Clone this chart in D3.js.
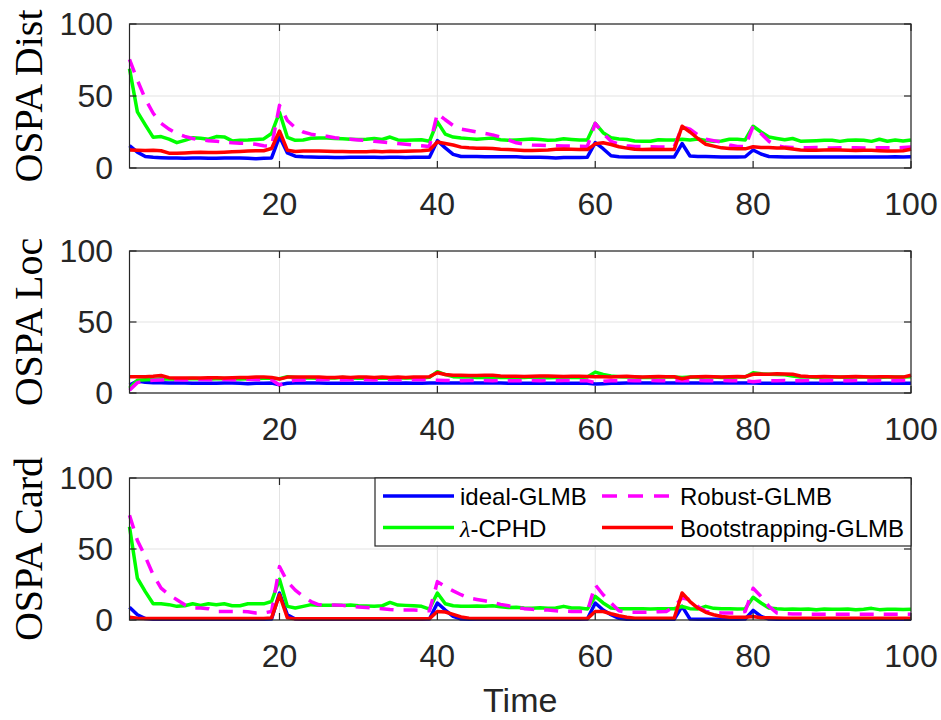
<!DOCTYPE html>
<html>
<head>
<meta charset="utf-8">
<script src="https://cdn.jsdelivr.net/npm/d3@7"></script>
<style>
  body { margin: 0; background: #fff; }
  svg { display: block; }
</style>
</head>
<body>
<div id="chart"></div>
<script>
// time steps 1..100
let timeSteps = d3.range(1, 101);
let xTicks = [20, 40, 60, 80, 100];
let yTicks = [0, 50, 100];
let seriesNames = ["ideal-GLMB", "Robust-GLMB", "λ-CPHD", "Bootstrapping-GLMB"];
let panelLabels = ["OSPA Dist", "OSPA Loc", "OSPA Card"];

// OSPA Dist
let idealDist = [15.5, 11, 8, 7.5, 7.2, 7, 7, 6.8, 7, 7,
    6.8, 6.8, 7, 7, 7, 6.8, 6.5, 6.8, 7, 21.8,
    10.5, 8.2, 7.8, 7.6, 7.5, 7.5, 7.3, 7.3, 7.5, 7.5,
    7.5, 7.5, 7.3, 7.5, 7.5, 7.3, 7.5, 7.5, 7.5, 19,
    14, 9.5, 8, 8, 8, 7.8, 7.8, 7.8, 7.8, 7.8,
    7.5, 7.5, 7.5, 7.3, 7.0, 7.3, 7.3, 7.3, 7.5, 17.6,
    13.4, 8.5, 7.8, 7.6, 7.6, 7.6, 7.6, 7.6, 7.6, 7.6,
    17, 8.3, 8, 8, 7.8, 7.6, 7.6, 7.6, 7.8, 12.5,
    9.7, 8, 7.8, 7.6, 7.6, 7.7, 7.6, 7.6, 7.7, 7.6,
    7.6, 7.7, 7.6, 7.6, 7.7, 7.6, 7.6, 7.8, 7.6, 7.8];
let cphdDist = [69, 39, 30, 21.3, 21.8, 20, 17.6, 19.2, 21, 20.6,
    20, 21.8, 21.6, 18.8, 19.2, 19.4, 19.8, 20.2, 24, 38.7,
    21.3, 19.2, 19.5, 20.6, 20.8, 20.8, 20.5, 20.3, 20, 19.8,
    20, 20.5, 19.8, 21.5, 19.5, 19.3, 19.5, 19.6, 18.6, 32,
    23.5, 21.5, 20.8, 20.4, 20, 20.4, 20.8, 19.6, 19.3, 19.5,
    19.8, 20.2, 19.8, 19.3, 19.5, 20.3, 19.8, 19.4, 19.5, 31,
    24.5, 21, 20.2, 19.8, 18.8, 18.5, 18.6, 19.6, 19.4, 19.5,
    20, 19.5, 20.2, 19.2, 18.5, 18.7, 20, 20, 19.5, 29,
    25, 21.5, 20.5, 19.6, 20.5, 18.6, 18.8, 19, 19.2, 19.3,
    18.5, 19.3, 19.4, 19.3, 18.5, 20, 18.6, 19.5, 18.7, 19.5];
let robustDist = [75.5, 61, 48, 38, 31, 27, 24, 22, 20.5, 19.5,
    19, 18.5, 18, 17.5, 17.2, 17, 16.5, 15.5, 15, 43.5,
    33, 28, 25, 23.5, 22.5, 22, 21, 20.5, 20, 19.5,
    19, 18.5, 18, 17.5, 17, 16.5, 16, 15.5, 15, 38,
    33.5, 29.5, 27, 26, 25, 24, 23, 21.5, 19.5, 17.5,
    16.5, 16, 15.8, 15.6, 15.5, 15.3, 15.2, 15.1, 15, 31,
    24, 18.5, 16.5, 15.5, 15, 14.8, 14.7, 14.6, 14.5, 14.8,
    28.5, 27, 23, 20, 19, 18, 16, 15, 14.8, 29,
    24, 18.5, 15.5, 14.5, 14.2, 14, 14, 14.2, 14, 13.9,
    14, 14.2, 14, 13.9, 14, 14.1, 14, 14, 14.2, 14.5];
let bootDist = [12.5, 12.3, 12.2, 12.3, 12, 10.3, 10.3, 10.5, 10.8, 11,
    10.8, 10.8, 11, 11.2, 11.5, 11.8, 12, 12, 13.5, 25.7,
    12.3, 11.5, 11.8, 11.8, 11.8, 11.6, 11.5, 11.4, 11.3, 11.3,
    11.3, 11.6, 11.3, 11.6, 11.5, 11.6, 11.8, 12, 12.5, 18,
    17, 16, 14.5, 14, 13.8, 13.8, 13.5, 13, 12.8, 12.5,
    12.2, 12.2, 12.3, 12.5, 13, 13.2, 13, 12.8, 12.8, 16.8,
    17.5, 16.3, 14.8, 13.8, 13, 12.8, 13, 12.8, 12.8, 12.8,
    29, 25, 20.5, 16.5, 15.2, 14, 13.5, 13.3, 13.3, 14.8,
    14.3, 14.2, 13.9, 13.9, 13.2, 12.5, 12.3, 12.3, 12.5, 12.7,
    12.5, 12.3, 12.2, 12.3, 12.3, 12, 11.8, 11.8, 12, 13];

// OSPA Loc
let idealLoc = [5.6, 8.5, 7.5, 7.3, 7.2, 7, 7, 7, 6.8, 6.8,
    6.8, 6.8, 7, 7, 6.8, 6.5, 6.8, 6.8, 7, 5.8,
    6.8, 7, 7, 7, 7, 6.8, 6.8, 6.8, 6.8, 7,
    6.8, 6.8, 6.8, 6.8, 6.8, 7, 6.8, 6.8, 7, 7,
    7, 7, 7, 7, 7, 7, 7, 7, 6.8, 6.8,
    6.8, 6.8, 6.8, 6.8, 6.8, 6.8, 6.8, 6.8, 6.8, 6.3,
    6.5, 6.8, 6.8, 7, 7, 7, 7, 7, 7, 7,
    7, 7, 7, 7, 7, 7, 7, 7, 7, 7,
    6.8, 6.8, 6.8, 6.8, 6.8, 6.8, 6.8, 6.8, 6.8, 6.8,
    6.8, 6.8, 6.8, 6.8, 6.8, 6.8, 6.8, 6.8, 6.8, 6.8];
let cphdLoc = [3.3, 9, 9.3, 9.5, 10, 9.8, 9.8, 10, 10.2, 10,
    9.8, 10, 10.2, 10, 9.8, 10, 10.2, 10.3, 10.3, 10,
    11.5, 11, 10.5, 10.5, 10.3, 10.5, 10.5, 11, 10.5, 10.3,
    10.5, 10.3, 10.5, 10.3, 10.5, 10.5, 10.8, 10.5, 11, 15,
    13, 11.5, 11.3, 11.2, 11, 11, 11.2, 11, 11, 11,
    11, 11.2, 11, 10.8, 11, 11.2, 11, 11, 11.2, 14.7,
    13, 12, 11.5, 11.3, 11.2, 11, 11, 11.2, 11.3, 11.2,
    11, 11.2, 11, 11.3, 11.2, 11, 11, 11.2, 11.3, 14.3,
    13.5, 13.2, 13, 12.8, 12, 11.3, 11.2, 11, 11.2, 11.3,
    11.2, 11, 11.2, 11.3, 11.2, 11, 11.2, 11.3, 11.2, 11.5];
let robustLoc = [2, 7.3, 8.5, 9, 9.2, 9.5, 9.3, 9.2, 9.5, 9.5,
    9.3, 9.5, 9.5, 9.3, 9.2, 9.5, 9.5, 9.3, 9.3, 5.6,
    8, 9, 9.2, 9.3, 9.3, 9.5, 9.3, 9.2, 9.3, 9.5,
    9.3, 9.2, 9.3, 9.5, 9.3, 9.2, 9.3, 9.3, 9.2, 9,
    8.8, 8.8, 8.7, 8.8, 8.7, 8.8, 8.7, 8.8, 8.7, 8.7,
    8.7, 8.8, 8.7, 8.8, 8.7, 8.8, 8.7, 8.7, 8.6, 7.3,
    8.3, 8.6, 8.7, 8.8, 8.7, 8.7, 8.8, 8.7, 8.7, 8.8,
    8.7, 8.7, 8.8, 8.7, 8.7, 8.8, 8.7, 8.7, 8.6, 8,
    8.5, 8.7, 8.7, 8.8, 8.7, 8.7, 8.8, 8.7, 8.7, 8.8,
    8.7, 8.7, 8.8, 8.7, 8.7, 8.8, 8.7, 8.7, 8.8, 8.8];
let bootLoc = [11.5, 11.5, 11.5, 11.8, 12.3, 10.8, 10.5, 10.5, 10.5, 10.5,
    10.8, 10.8, 10.5, 10.8, 11, 11, 11.2, 11.2, 11, 9.8,
    11.2, 11.3, 11.3, 11.3, 11.2, 11, 11, 11.2, 11, 11.2,
    11.3, 11, 11.2, 11, 11.2, 11, 11.3, 11.2, 11.5, 14.3,
    13, 12.5, 12.5, 12.3, 12.3, 12.5, 12.5, 12, 11.8, 11.8,
    11.6, 11.8, 12, 12, 11.8, 11.6, 11.8, 11.8, 11.6, 11.5,
    11.5, 11.3, 11.6, 11.8, 11.5, 11.3, 11.5, 11.6, 11.5, 11.4,
    10, 11.2, 11.5, 11.6, 11.5, 11.3, 11.5, 11.6, 11.5, 13.2,
    13.3, 13.2, 13.5, 13.3, 13.2, 12, 11.6, 11.5, 11.6, 11.5,
    11.3, 11.5, 11.6, 11.5, 11.3, 11.4, 11.5, 11.3, 11.2, 12.5];

// OSPA Card
let idealCard = [9, 3.7, 1, 0.5, 0.5, 0.5, 0.5, 0.5, 0.5, 0.5,
    0.5, 0.5, 0.5, 0.5, 0.5, 0.5, 0.5, 0.5, 0.7, 19,
    3.7, 0.7, 0.5, 0.5, 0.5, 0.5, 0.5, 0.5, 0.5, 0.5,
    0.5, 0.5, 0.5, 0.5, 0.5, 0.5, 0.5, 0.5, 0.7, 12,
    7, 2.5, 0.7, 0.5, 0.5, 0.5, 0.5, 0.5, 0.5, 0.5,
    0.5, 0.5, 0.5, 0.5, 0.5, 0.5, 0.5, 0.5, 0.7, 12,
    7, 3.7, 1.2, 0.5, 0.5, 0.5, 0.5, 0.5, 0.5, 0.5,
    9.6, 0.7, 0.5, 0.5, 0.5, 0.5, 0.5, 0.5, 0.7, 6.8,
    2.5, 0.7, 0.5, 0.5, 0.5, 0.5, 0.5, 0.5, 0.5, 0.5,
    0.5, 0.5, 0.5, 0.5, 0.5, 0.5, 0.5, 0.5, 0.5, 0.5];
let cphdCard = [65.7, 29.4, 20, 11.4, 11.4, 10.8, 9.6, 10, 11.4, 10.3,
    11.4, 10.8, 11.4, 10, 10, 11.4, 11.4, 11.4, 13, 28.7,
    9.6, 8.4, 9.6, 10.8, 10.3, 10.3, 10.3, 10.3, 10.5, 10,
    9.8, 9.6, 10, 12.4, 10.5, 10.3, 10, 9.6, 7.7, 19,
    11.4, 10, 9.6, 9.6, 9.8, 9.6, 10, 9.4, 8.8, 9,
    8.4, 8.2, 8.6, 8.2, 8.4, 9.6, 8.4, 8.4, 7.7, 16.6,
    12, 8.4, 7.9, 7.9, 8, 7.9, 7.8, 7.9, 8, 7.9,
    9.5, 8, 7.8, 9.6, 8.2, 7.9, 8, 7.8, 7.9, 16,
    12, 8.4, 7.9, 7.6, 7.8, 7.5, 7.8, 7.3, 7.7, 7.6,
    7.5, 7.8, 7.2, 7.6, 8.2, 7.3, 7.5, 7.6, 7.4, 7.6];
let robustCard = [73.8, 56, 44.6, 31.8, 22.4, 17.8, 14.3, 10.7, 8.4, 8.4,
    8, 6, 6, 6, 6, 5.8, 5, 5, 6, 37.6,
    27, 21, 16.6, 13, 10.7, 10.7, 10.5, 10.3, 9.6, 9.2,
    8.8, 8.4, 8, 7.4, 7, 7, 7, 6.8, 6.5, 27,
    23.6, 20.5, 17.8, 15.5, 14.5, 13.5, 12.5, 11, 10, 9,
    8, 7.5, 7.2, 7, 6.5, 6.2, 6, 6, 6, 24.8,
    17.8, 12, 6.5, 5.5, 5.5, 5.5, 5.5, 5.8, 6, 9.6,
    15.4, 14.3, 9.6, 6, 5.3, 5, 5, 5, 6, 22.4,
    16.6, 9.6, 5, 4.4, 4.2, 4.2, 4, 4, 4, 4,
    4, 4, 4, 4, 4, 4, 4, 4, 4, 4];
let bootCard = [1.9, 1.2, 1, 1, 1, 1, 1, 1, 1, 1,
    1, 1, 1, 1, 1, 1, 1, 1, 1.5, 17.8,
    1.5, 0.8, 0.8, 0.8, 0.8, 0.8, 0.8, 0.8, 0.8, 0.8,
    0.8, 0.8, 0.8, 0.8, 0.8, 0.8, 0.8, 0.8, 1, 6,
    5.6, 4, 2.2, 1.2, 1, 1, 1, 1, 1, 1,
    1, 1, 1, 1, 1, 1, 1, 1, 1, 6,
    6, 4.4, 3, 2, 1.2, 1.2, 1.2, 1.2, 1.2, 1.2,
    19, 13, 8.4, 5.4, 3.7, 2.5, 2, 2, 2, 2.5,
    1.6, 1.5, 1.4, 1.3, 1.3, 1.3, 1.3, 1.3, 1.3, 1.3,
    1.3, 1.3, 1.3, 1.3, 1.3, 1.3, 1.3, 1.3, 1.3, 1.3];

let panelData = [
    [idealDist, cphdDist, robustDist, bootDist],
    [idealLoc, cphdLoc, robustLoc, bootLoc],
    [idealCard, cphdCard, robustCard, bootCard]
];
// draw order: ideal, lambda-CPHD, Robust, Bootstrapping
let lineColors = ["#0000ff", "#00ff00", "#ff00ff", "#ff0000"];
let lineDash = [null, null, "14,10", null];

let width = 941, height = 720;
let axisColor = "#262626";
let sansFont = "'Liberation Sans', Arial, Helvetica, sans-serif";
let serifFont = "'Liberation Serif', 'Times New Roman', serif";

let svg = d3.select("#chart").append("svg")
    .attr("width", width)
    .attr("height", height);

let x = d3.scaleLinear()
    .domain([1, 100])
    .range([129.5, 911]);

let panelTop = [24, 251, 478];
let panelBottom = [168, 393, 620];

function drawPanel(p) {
    let top = panelTop[p], bottom = panelBottom[p];
    let y = d3.scaleLinear().domain([0, 100]).range([bottom, top]);
    let g = svg.append("g").attr("id", "panel" + p);

    // grid
    g.append("g").selectAll("line.gx")
        .data(xTicks)
        .enter().append("line")
        .attr("x1", d => x(d)).attr("x2", d => x(d))
        .attr("y1", top).attr("y2", bottom)
        .style("stroke", "#e3e3e3").style("stroke-width", 1);
    g.append("g").selectAll("line.gy")
        .data(yTicks)
        .enter().append("line")
        .attr("x1", x.range()[0]).attr("x2", x.range()[1])
        .attr("y1", d => y(d)).attr("y2", d => y(d))
        .style("stroke", "#e3e3e3").style("stroke-width", 1);

    // lines
    let line = d3.line()
        .x((d, i) => x(timeSteps[i]))
        .y(d => y(d));
    panelData[p].forEach(function (s, k) {
        let path = g.append("path")
            .datum(s)
            .attr("d", line)
            .style("fill", "none")
            .style("stroke", lineColors[k])
            .style("stroke-width", 3.5)
            .style("stroke-linejoin", "round");
        if (lineDash[k]) path.style("stroke-dasharray", lineDash[k]);
    });

    // box
    g.append("rect")
        .attr("x", x.range()[0]).attr("y", top)
        .attr("width", x.range()[1] - x.range()[0])
        .attr("height", bottom - top)
        .style("fill", "none")
        .style("stroke", axisColor)
        .style("stroke-width", 1.2);

    // ticks, inward on all four sides
    let tl = 7;
    xTicks.forEach(function (t) {
        g.append("line").attr("x1", x(t)).attr("x2", x(t))
            .attr("y1", bottom).attr("y2", bottom - tl)
            .style("stroke", axisColor).style("stroke-width", 1.2);
        g.append("line").attr("x1", x(t)).attr("x2", x(t))
            .attr("y1", top).attr("y2", top + tl)
            .style("stroke", axisColor).style("stroke-width", 1.2);
    });
    yTicks.forEach(function (t) {
        g.append("line").attr("x1", x.range()[0]).attr("x2", x.range()[0] + tl)
            .attr("y1", y(t)).attr("y2", y(t))
            .style("stroke", axisColor).style("stroke-width", 1.2);
        g.append("line").attr("x1", x.range()[1]).attr("x2", x.range()[1] - tl)
            .attr("y1", y(t)).attr("y2", y(t))
            .style("stroke", axisColor).style("stroke-width", 1.2);
    });

    // tick labels
    g.append("g").selectAll("text")
        .data(xTicks)
        .enter().append("text")
        .attr("x", d => x(d))
        .attr("y", bottom + 47)
        .style("text-anchor", "middle")
        .style("font-family", sansFont)
        .style("font-size", "32px")
        .style("fill", axisColor)
        .text(d => d);
    g.append("g").selectAll("text")
        .data(yTicks)
        .enter().append("text")
        .attr("x", 113)
        .attr("y", d => y(d) + 11)
        .style("text-anchor", "end")
        .style("font-family", sansFont)
        .style("font-size", "32px")
        .style("fill", axisColor)
        .text(d => d);

    // y label (LaTeX-like serif)
    g.append("text")
        .attr("transform", "translate(42," + ((top + bottom) / 2) + ") rotate(-90)")
        .style("text-anchor", "middle")
        .style("font-family", serifFont)
        .style("font-size", "40px")
        .style("fill", "#000")
        .text(panelLabels[p]);
}

for (let p = 0; p < 3; ++p) drawPanel(p);

// x axis label
svg.append("text")
    .attr("x", (x.range()[0] + x.range()[1]) / 2)
    .attr("y", 712)
    .style("text-anchor", "middle")
    .style("font-family", sansFont)
    .style("font-size", "34px")
    .style("fill", axisColor)
    .text("Time");

// legend, two columns
let legend = svg.append("g").attr("id", "legend");
legend.append("rect")
    .attr("x", 375).attr("y", 478)
    .attr("width", 911 - 375).attr("height", 546 - 478)
    .style("fill", "#fff")
    .style("stroke", axisColor)
    .style("stroke-width", 1.2);
// [name index, colour index, column, row]
let legendItems = [[0, 0, 0, 0], [1, 2, 1, 0], [2, 1, 0, 1], [3, 3, 1, 1]];
let colLine = [383, 602], colText = [460, 680], rowY = [496, 527.5];
legendItems.forEach(function (it) {
    let ln = legend.append("line")
        .attr("x1", colLine[it[2]]).attr("x2", colLine[it[2]] + 71)
        .attr("y1", rowY[it[3]]).attr("y2", rowY[it[3]])
        .style("stroke", lineColors[it[1]])
        .style("stroke-width", 3.5);
    if (lineDash[it[1]]) ln.style("stroke-dasharray", "15,11");
    let t = legend.append("text")
        .attr("x", colText[it[2]])
        .attr("y", rowY[it[3]] + 9)
        .style("font-family", sansFont)
        .style("font-size", "24px")
        .style("fill", "#000");
    if (it[0] === 2) {
        t.append("tspan").style("font-family", serifFont).style("font-style", "italic").text("λ");
        t.append("tspan").text("-CPHD");
    } else {
        t.text(seriesNames[it[0]]);
    }
});
</script>
</body>
</html>
